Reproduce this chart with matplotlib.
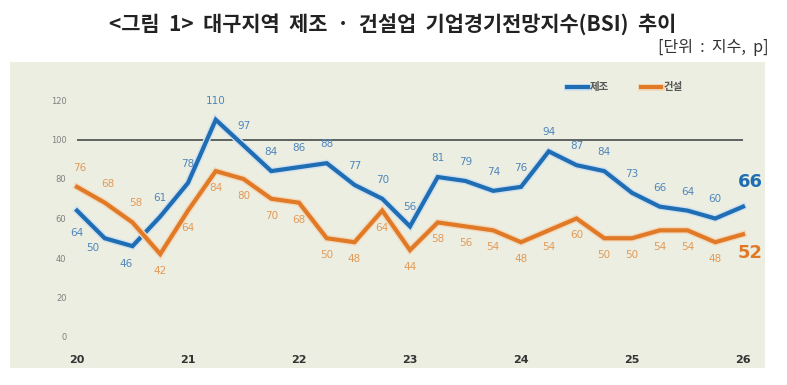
import numpy as np
import matplotlib
matplotlib.use('Agg')
import matplotlib.pyplot as plt
import matplotlib.patheffects as pe
from matplotlib.patches import Rectangle

plt.rcParams['font.family'] = ['Noto Sans CJK KR', 'DejaVu Sans']

#data (quarterly, 2020 Q1 .. 2026 Q1)
year_labels = ['20', '21', '22', '23', '24', '25', '26']
mfg = [64, 50, 46, 61, 78, 110, 97, 84, 86, 88, 77, 70, 56,
       81, 79, 74, 76, 94, 87, 84, 73, 66, 64, 60, 66]
cons = [76, 68, 58, 42, 64, 84, 80, 70, 68, 50, 48, 64, 44,
        58, 56, 54, 48, 54, 60, 50, 50, 54, 54, 48, 52]
series_names = ['제조', '건설']

blue = '#1f6db3'
blue_lbl = '#4f86bd'
orange = '#e07a26'
orange_lbl = '#e39a58'
panel = '#ebeee0'

W, H = 787, 385
fig = plt.figure(figsize=(W/100, H/100), dpi=100)

#background panel
fig.patches.append(Rectangle((10/W, 17/H), 755/W, 306/H, transform=fig.transFigure,
                             facecolor=panel, edgecolor='none', zorder=-5))

fig.text(393/W, 1-25/H, '<그림  1>  대구지역  제조  ·  건설업  기업경기전망지수(BSI)  추이',
         ha='center', va='center', fontsize=15, fontweight='bold', color='#222222')
fig.text(768/W, 1-48/H, '[단위  :  지수,  p]', ha='right', va='center',
         fontsize=11.5, color='#333333')

#axes: x=0 at 77px, 27.75 px/unit ; y=0 at 337px, 1.975 px/unit
ax_l, ax_r, ax_t, ax_b = 72, 760, 95, 345
ax = fig.add_axes([ax_l/W, 1-ax_b/H, (ax_r-ax_l)/W, (ax_b-ax_t)/H])
ax.set_zorder(2)
ax.set_facecolor('none')
ax.set_xlim(-(77-ax_l)/27.75, (ax_r-77)/27.75)
ax.set_ylim(-(ax_b-337)/1.975, (337-ax_t)/1.975)
for s in ax.spines.values():
  s.set_visible(False)

x = np.arange(len(mfg))
ax.hlines(100, x[0], x[-1], color='#5f6360', lw=1.4, zorder=1)

ln1, = ax.plot(x, mfg, color=blue, lw=3.0, solid_joinstyle='miter', zorder=3,
               path_effects=[pe.Stroke(linewidth=5.0, foreground='#cfe0f0'), pe.Normal()])
ln2, = ax.plot(x, cons, color=orange, lw=3.0, solid_joinstyle='miter', zorder=3,
               path_effects=[pe.Stroke(linewidth=5.0, foreground='#f3d9bd'), pe.Normal()])

numfont = ['Liberation Sans Narrow', 'DejaVu Sans']
n = len(mfg)
for i in range(n - 1):
  if i == 0:
    off = (0, -22)
  elif i == 1:
    off = (-12, -10)
  elif i == 2:
    off = (-6, -18)
  else:
    off = (0, 19)
  ax.annotate(str(mfg[i]), (x[i], mfg[i]), xytext=off, textcoords='offset pixels',
              ha='center', va='center', fontsize=7.5, color=blue_lbl, family=numfont)

  if i < 3:
    off = (3, 19)
  else:
    off = (0, -17)
  ax.annotate(str(cons[i]), (x[i], cons[i]), xytext=off, textcoords='offset pixels',
              ha='center', va='center', fontsize=7.5, color=orange_lbl, family=numfont)

ax.annotate(str(mfg[-1]), (x[-1], mfg[-1]), xytext=(7, 25), textcoords='offset pixels',
            ha='center', va='center', fontsize=13, fontweight='bold', color=blue,
            family=numfont)
ax.annotate(str(cons[-1]), (x[-1], cons[-1]), xytext=(7, -19), textcoords='offset pixels',
            ha='center', va='center', fontsize=13, fontweight='bold', color=orange,
            family=numfont)

ax.set_yticks(np.arange(0, 121, 20))
ax.set_yticklabels([str(v) for v in range(0, 121, 20)], fontsize=6, color='#808080',
                   family=numfont)
ax.set_xticks(x[::4])
ax.set_xticklabels(year_labels, fontsize=8, fontweight='bold', color='#333333',
                   family=numfont)
ax.tick_params(axis='both', length=0)
ax.tick_params(axis='x', pad=7)
ax.tick_params(axis='y', pad=4)

leg = ax.legend([ln1, ln2], series_names, loc='upper left', bbox_to_anchor=(563/W, 1-78/H),
                bbox_transform=fig.transFigure, ncol=2, frameon=False, fontsize=7.5,
                handlelength=2.0, handletextpad=0.2, columnspacing=3.0, borderaxespad=0)
for t in leg.get_texts():
  t.set_color('#555555')
  t.set_fontweight('bold')

plt.savefig('out.png', dpi=100)
